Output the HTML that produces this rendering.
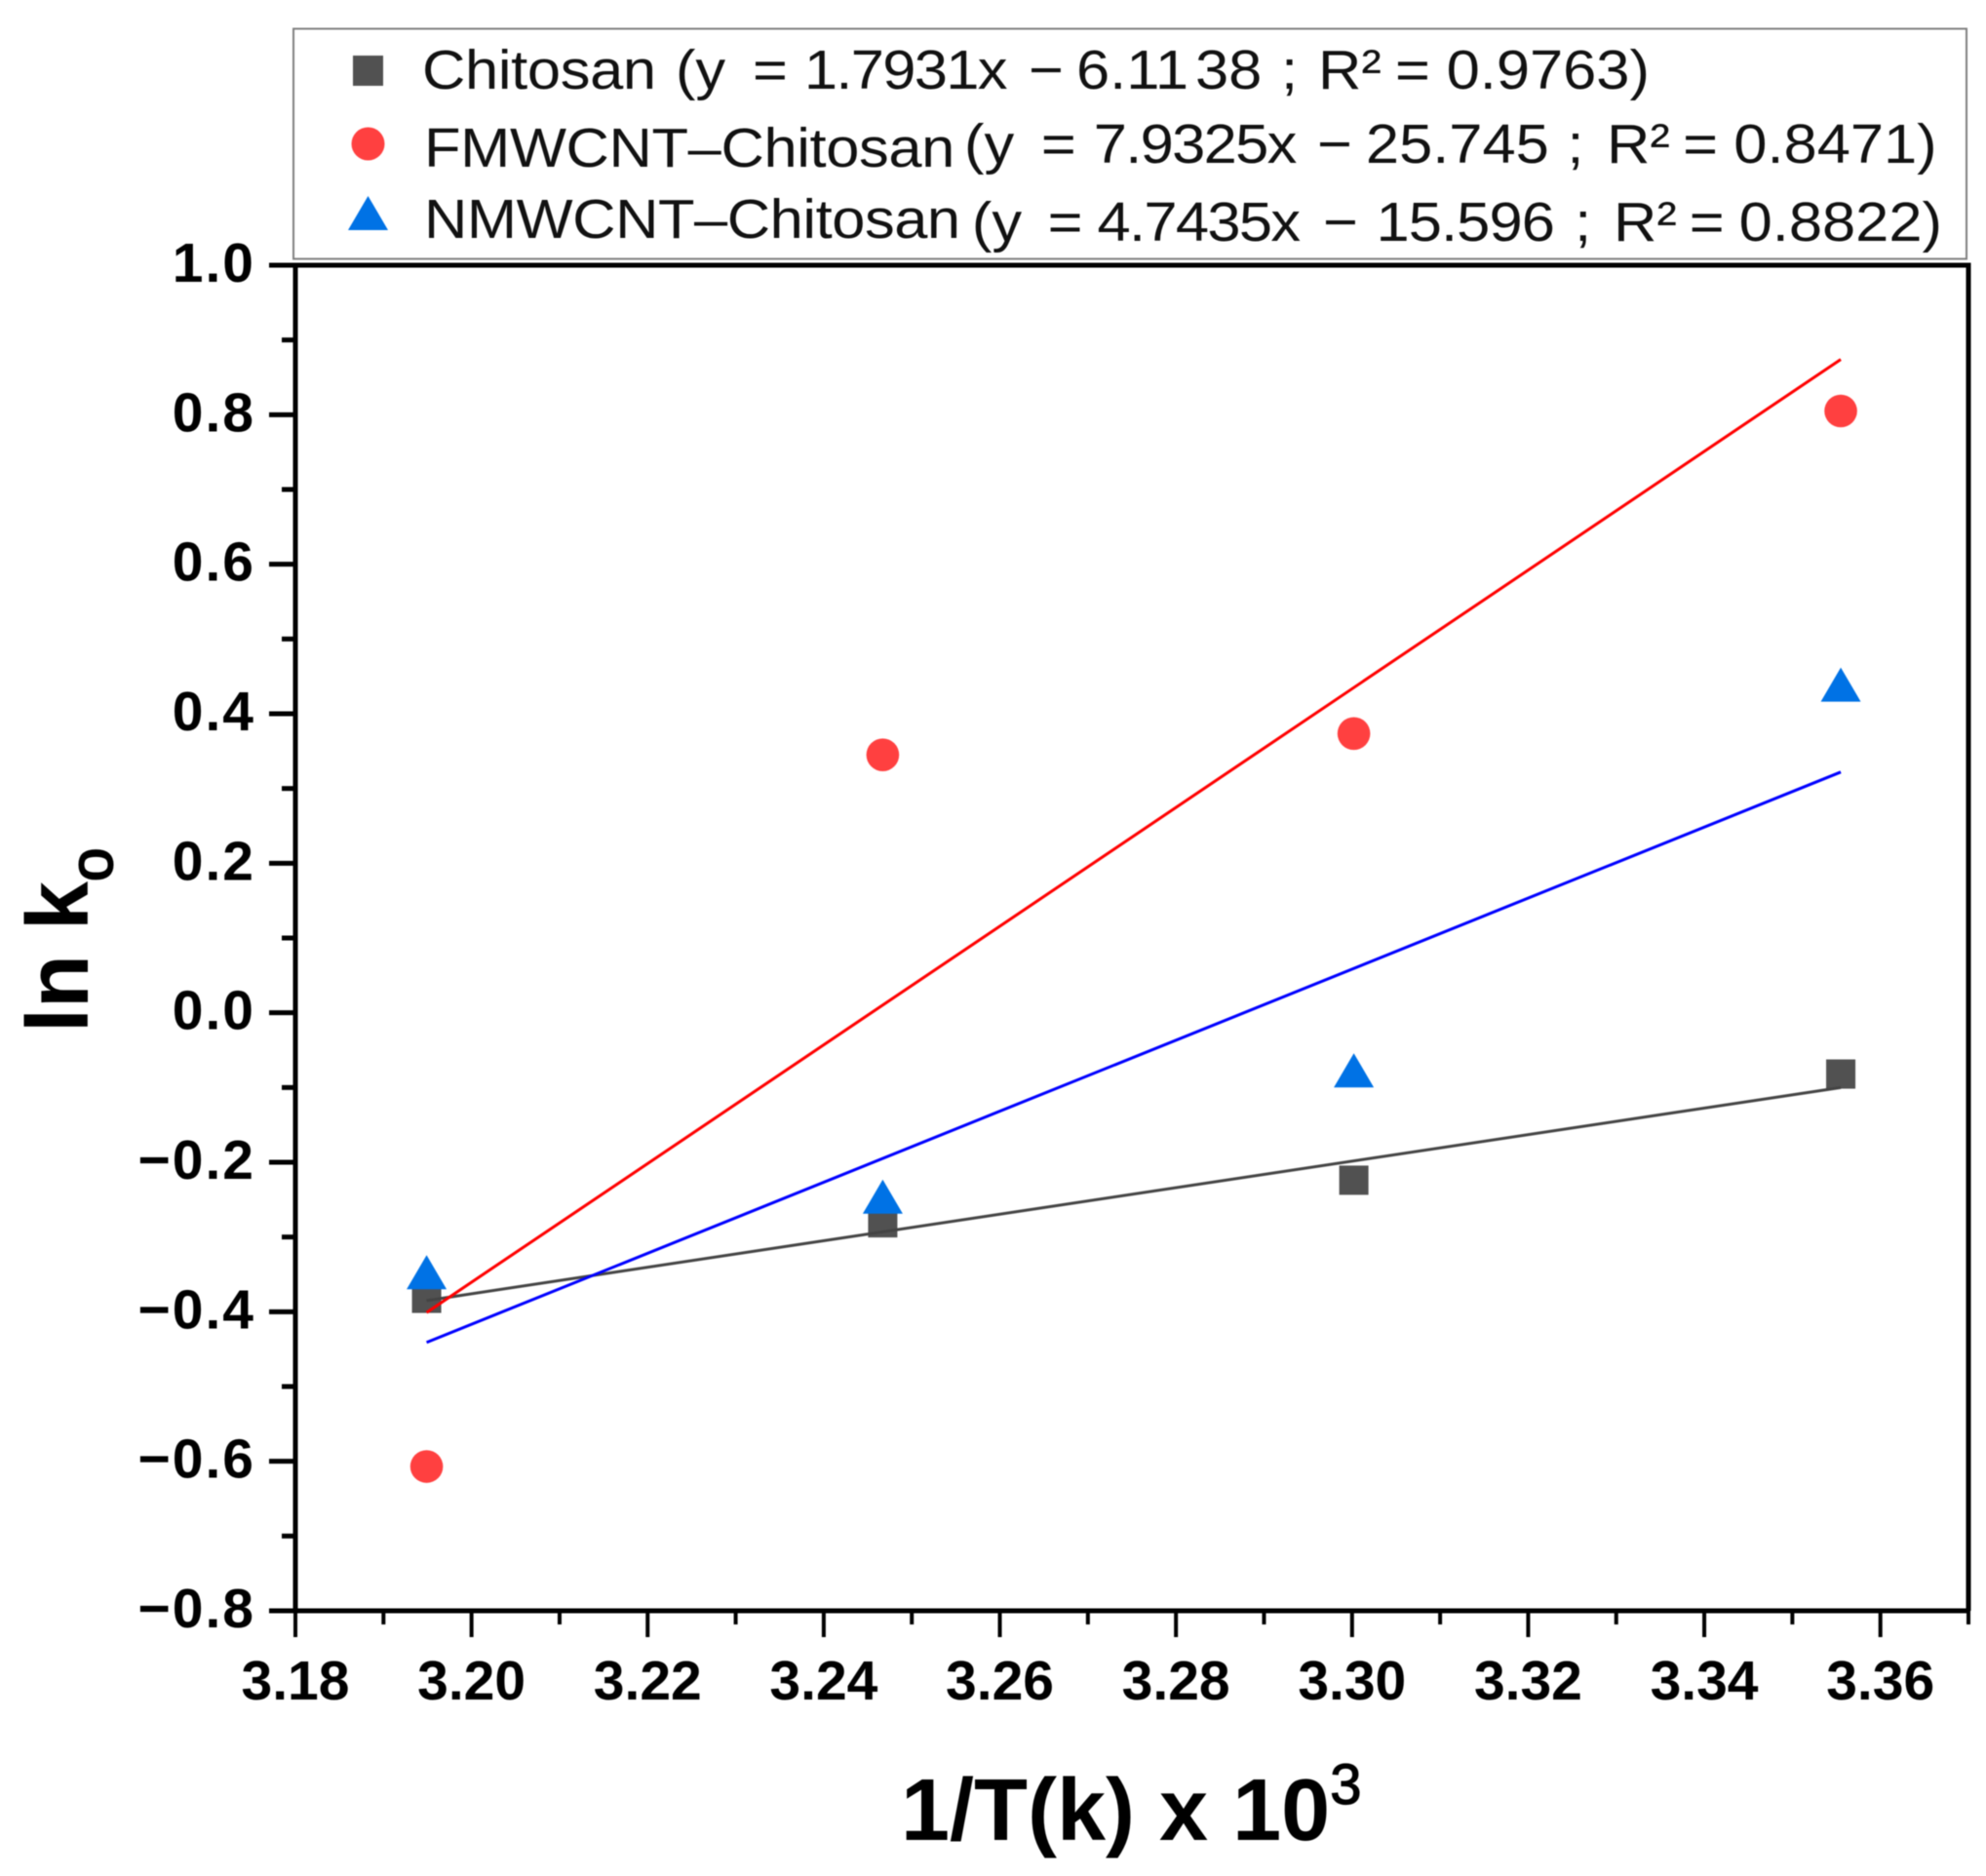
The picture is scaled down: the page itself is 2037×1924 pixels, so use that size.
<!DOCTYPE html>
<html lang="en">
<head>
<meta charset="utf-8">
<title>ln k0 versus 1/T chart</title>
<style>
  html, body { margin: 0; padding: 0; background: #fff; }
  svg { display: block; filter: blur(0.6px); }
  text { font-family: "Liberation Sans", Arial, sans-serif; }
  .legend-text { font-size: 55.35px; fill: #111; }
  .tick-label { font-size: 57px; font-weight: 700; fill: #000; }
  .y-tick-label { letter-spacing: 2px; }
  .axis-title { font-size: 90px; font-weight: 700; fill: #000; }
</style>
</head>
<body>
<svg id="chart" xmlns="http://www.w3.org/2000/svg" width="2037" height="1924" viewBox="0 0 2037 1924">
  <rect x="0" y="0" width="2037" height="1924" fill="#ffffff"/>
  <g id="plot"></g>

  <rect x="301" y="29.5" width="1716" height="236" fill="#ffffff" stroke="#808080" stroke-width="2"/>
  <rect x="362" y="57" width="31" height="31" fill="#515151"/>
  <ellipse cx="377.5" cy="147.5" rx="17" ry="17" fill="#ff4040"/>
  <polygon points="377.5,201 398,236 357,236" fill="#0072e5"/>

  <text class="legend-text" transform="translate(433,91) scale(1.11,1.03)"><tspan x="0" letter-spacing="-0.3">Chitosan</tspan> <tspan x="234.2">(y</tspan> <tspan x="305.4">=</tspan> <tspan x="353" letter-spacing="-1.5">1.7931x</tspan> <tspan x="560.4">−</tspan> <tspan x="604.5">6.11</tspan><tspan x="714.4">38</tspan> <tspan x="793.7">;</tspan> <tspan x="827.9">R²</tspan> <tspan x="899.1">=</tspan> <tspan x="946.5">0.9763)</tspan></text>

  <text class="legend-text" transform="translate(433,171) scale(1.11,1.03)"><tspan x="1.8" letter-spacing="-0.33">FMWCNT–Chitosan</tspan> <tspan x="500.9" dy="-4">(y</tspan> <tspan x="572">=</tspan> <tspan x="620.5" letter-spacing="-1.5">7.9325x</tspan> <tspan x="827">−</tspan> <tspan x="872">25.745</tspan> <tspan x="1058">;</tspan> <tspan x="1094.6">R²</tspan> <tspan x="1165">=</tspan> <tspan x="1212">0.8471)</tspan></text>

  <text class="legend-text" transform="translate(433,244) scale(1.11,1.03)"><tspan x="1.8" letter-spacing="-0.4">NMWCNT–Chitosan</tspan> <tspan x="508" dy="3">(y</tspan> <tspan x="578">=</tspan> <tspan x="623.9" letter-spacing="-1.5">4.7435x</tspan> <tspan x="832.4">−</tspan> <tspan x="881.5" letter-spacing="-0.8">15.596</tspan> <tspan x="1065">;</tspan> <tspan x="1100.9">R²</tspan> <tspan x="1171">=</tspan> <tspan x="1216.8">0.8822)</tspan></text>

  <text class="axis-title" x="924" y="1887">1/T(k) x 10<tspan font-size="58" font-weight="400" stroke="#000" stroke-width="1.2" dy="-37">3</tspan></text>
  <text class="axis-title" transform="translate(90,1059) rotate(-90)">ln k<tspan font-size="62" font-weight="400" stroke="#000" stroke-width="2" dy="25">o</tspan></text>
</svg>
<script>
// Axis domains
const xDomain = [3.18, 3.37];
const yDomain = [-0.8, 1.0];

// Tick labels
const xTickLabels = ["3.18", "3.20", "3.22", "3.24", "3.26", "3.28", "3.30", "3.32", "3.34", "3.36"];
const yTickLabels = ["−0.8", "−0.6", "−0.4", "−0.2", "0.0", "0.2", "0.4", "0.6", "0.8", "1.0"];
const xMinorTicks = [3.19, 3.21, 3.23, 3.25, 3.27, 3.29, 3.31, 3.33, 3.35, 3.37];
const yMinorTicks = [-0.7, -0.5, -0.3, -0.1, 0.1, 0.3, 0.5, 0.7, 0.9];

// Data
const temperatureX = [3.1949, 3.2467, 3.3002, 3.3555];
const chitosanValues = [-0.382, -0.281, -0.224, -0.082];
const fmwcntValues = [-0.607, 0.345, 0.3735, 0.805];
const nmwcntValues = [-0.347, -0.246, -0.077, 0.439];

// Fit line end points
const fitX = [3.1949, 3.3555];
const chitosanFit = [-0.385, -0.100];
const fmwcntFit = [-0.401, 0.874];
const nmwcntFit = [-0.441, 0.322];

const SVG_NS = "http://www.w3.org/2000/svg";
const plot = document.getElementById("plot");

const plotLeft = 303, plotRight = 2019, plotTop = 272, plotBottom = 1652;

function xScale(v) {
  return plotLeft + (v - xDomain[0]) / (xDomain[1] - xDomain[0]) * (plotRight - plotLeft);
}
function yScale(v) {
  return plotBottom - (v - yDomain[0]) / (yDomain[1] - yDomain[0]) * (plotBottom - plotTop);
}
function make(tag, attrs) {
  const el = document.createElementNS(SVG_NS, tag);
  for (const k in attrs) el.setAttribute(k, attrs[k]);
  plot.appendChild(el);
  return el;
}

// Axis frame
const axisBottom = make("line", { x1: plotLeft - 27, x2: plotRight + 2, y1: plotBottom, y2: plotBottom, stroke: "#000", "stroke-width": 5 });


const axisTop = make("line", { x1: plotLeft - 27, x2: plotRight + 2.5, y1: plotTop, y2: plotTop, stroke: "#000", "stroke-width": 5 });


const axisLeft = make("line", { x1: plotLeft, x2: plotLeft, y1: plotTop, y2: plotBottom, stroke: "#000", "stroke-width": 5 });


const axisRight = make("line", { x1: plotRight, x2: plotRight, y1: plotTop, y2: plotBottom, stroke: "#000", "stroke-width": 5 });



// X ticks
xTickLabels.forEach(function (label) {
  const v = parseFloat(label);
  const x = xScale(v);
  const tick = make("line", { x1: x, x2: x, y1: plotBottom, y2: plotBottom + 27, stroke: "#000", "stroke-width": 4 });
  
  
  const text = make("text", { x: x, y: 1743, "text-anchor": "middle", class: "tick-label" });
  text.textContent = label;
  
  
});
xMinorTicks.forEach(function (v) {
  const x = xScale(v);
  const tick = make("line", { x1: x, x2: x, y1: plotBottom, y2: plotBottom + 14, stroke: "#000", "stroke-width": 4 });
  
  
});

// Y ticks
yTickLabels.forEach(function (label) {
  const v = parseFloat(label.replace("−", "-"));
  const y = yScale(v);
  const tick = make("line", { x1: plotLeft - 27, x2: plotLeft, y1: y, y2: y, stroke: "#000", "stroke-width": 5 });
  
  
  const text = make("text", { x: 262, y: y + 17, "text-anchor": "end", class: "tick-label y-tick-label" });
  text.textContent = label;
  
  
});
yMinorTicks.forEach(function (v) {
  const y = yScale(v);
  const tick = make("line", { x1: plotLeft - 14, x2: plotLeft, y1: y, y2: y, stroke: "#000", "stroke-width": 5 });
  
  
});

// Markers
chitosanValues.forEach(function (v, i) {
  const cx = xScale(temperatureX[i]), cy = yScale(v);
  const m = make("rect", { x: cx - 15, y: cy - 15, width: 30, height: 30, fill: "#515151" });
  
  
});
fmwcntValues.forEach(function (v, i) {
  const cx = xScale(temperatureX[i]), cy = yScale(v);
  const m = make("ellipse", { cx: cx, cy: cy, rx: 16.8, ry: 16.8, fill: "#ff4040" });
  
  
});
nmwcntValues.forEach(function (v, i) {
  const cx = xScale(temperatureX[i]), cy = yScale(v);
  const pts = cx + "," + (cy - 17.5) + " " + (cx + 20.5) + "," + (cy + 17.5) + " " + (cx - 20.5) + "," + (cy + 17.5);
  const m = make("polygon", { points: pts, fill: "#0072e5" });
  
  
});

// Fit lines
const lineChitosan = make("line", { x1: xScale(fitX[0]), y1: yScale(chitosanFit[0]), x2: xScale(fitX[1]), y2: yScale(chitosanFit[1]), stroke: "#444444", "stroke-width": 3 });


const lineFmwcnt = make("line", { x1: xScale(fitX[0]), y1: yScale(fmwcntFit[0]), x2: xScale(fitX[1]), y2: yScale(fmwcntFit[1]), stroke: "#ff0000", "stroke-width": 3 });


const lineNmwcnt = make("line", { x1: xScale(fitX[0]), y1: yScale(nmwcntFit[0]), x2: xScale(fitX[1]), y2: yScale(nmwcntFit[1]), stroke: "#0000ff", "stroke-width": 3 });


</script>
</body>
</html>
